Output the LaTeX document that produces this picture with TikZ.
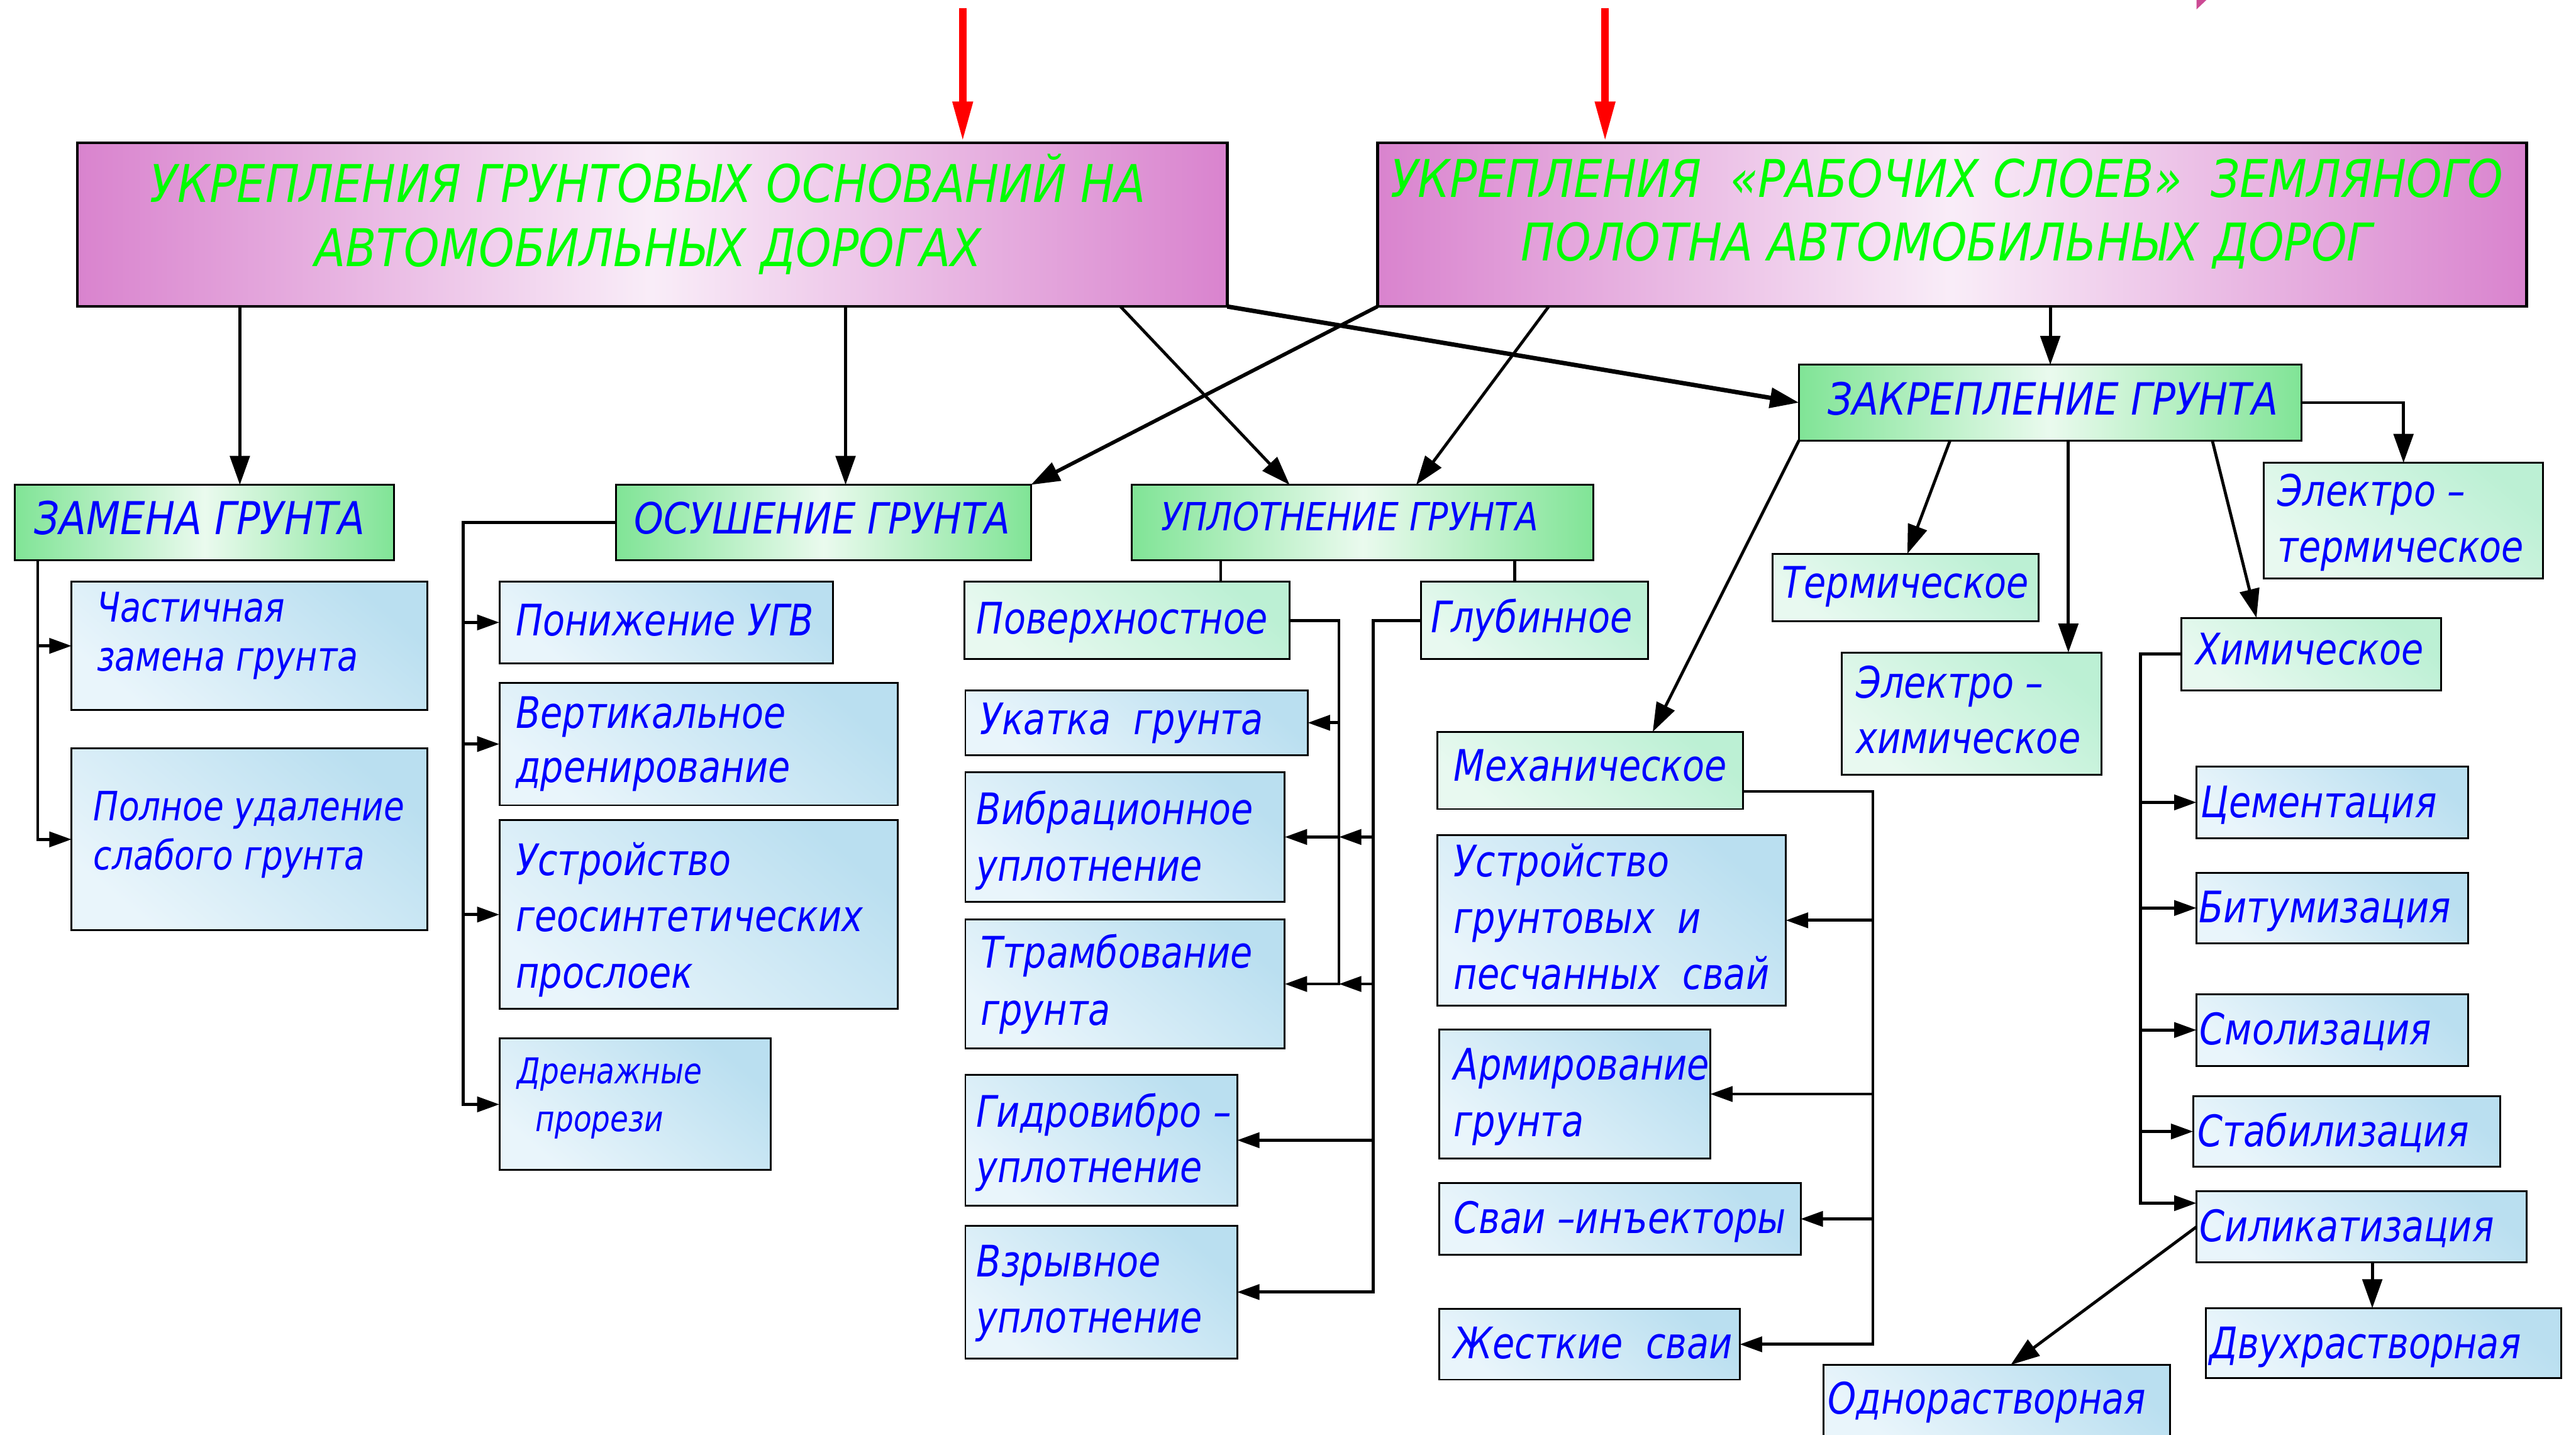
\documentclass[tikz,border=0pt]{standalone}
\usepackage{fontspec}
\usetikzlibrary{arrows.meta}
\newfontfamily\gf{DejaVu Sans}[FakeStretch=0.83]
\newfontfamily\gc{DejaVu Sans}[FakeStretch=0.87]
\newcommand\fs[2]{\gf\itshape\fontsize{#1pt}{#2pt}\selectfont}
\newcommand\fc[2]{\gc\itshape\fontsize{#1pt}{#2pt}\selectfont}
\newcommand\vstr{\rule[-0.25em]{0pt}{1.1em}}
\definecolor{tblue}{RGB}{0,0,255}
\definecolor{hgreen}{RGB}{0,255,0}
\definecolor{redc}{RGB}{255,0,0}
\definecolor{pinkc}{RGB}{204,74,148}
\definecolor{hdrE}{RGB}{217,131,206}
\definecolor{hdrM}{RGB}{249,237,248}
\definecolor{grnE}{RGB}{128,228,150}
\definecolor{grnM}{RGB}{234,250,238}
\definecolor{mintD}{RGB}{188,240,212}
\definecolor{mintL}{RGB}{232,249,240}
\definecolor{blueD}{RGB}{186,223,240}
\definecolor{blueL}{RGB}{233,245,251}
\begin{document}
\begin{tikzpicture}[x=0.25mm,y=-0.25mm,
  box/.style={rectangle, draw=black, line width=0.8pt, inner sep=0pt, outer sep=0pt},
  wh/.style 2 args={minimum width=#1*0.25mm, minimum height=#2*0.25mm},
  hdrbox/.style={box, line width=1.2pt, left color=hdrE, right color=hdrE, middle color=hdrM},
  grnbox/.style={box, left color=grnE, right color=grnE, middle color=grnM},
  mintbox/.style={box, top color=mintD, bottom color=mintL, shading angle=-40},
  bluebox/.style={box, top color=blueD, bottom color=blueL, shading angle=-40},
  txt/.style={inner sep=0pt, outer sep=0pt, anchor=west, align=left, text=tblue, font=\fs{18.8}{24.2}},
  hdrtxt/.style={inner sep=0pt, outer sep=0pt, align=center, text=hgreen, font=\fc{22.5}{27.7}},
  con/.style={draw=black, line width=1.3pt},
  arr/.style={-{Triangle[length=3.4mm,width=2.3mm]}},
  arrB/.style={-{Triangle[length=4.4mm,width=3mm]}},
  redarr/.style={draw=redc, line width=1.2mm, -{Triangle[length=6.3mm,width=2.8mm]}}
]
\fill[white] (0,0) rectangle (1568,873);
\clip (0,0) rectangle (1568,873);

% pink fragment at top
\fill[pinkc] (1337,0) -- (1343,0) -- (1337,5.7) -- cycle;

% ---- boxes ----
\node[hdrbox, wh={700}{99.5}] (H1) at (397,136.75) {};
\node[hdrbox, wh={699.5}{99.5}] (H2) at (1188.25,136.75) {};

\node[grnbox, wh={231}{46}] (zam) at (124.5,318) {};
\node[grnbox, wh={252.5}{46}] (osu) at (501.25,318) {};
\node[grnbox, wh={281}{46}] (upl) at (829.5,318) {};
\node[grnbox, wh={306}{46}] (zak) at (1248,245) {};

\node[bluebox, wh={216.4}{78}] (chast) at (151.8,393) {};
\node[bluebox, wh={216.4}{110.5}] (poln) at (151.8,510.75) {};

\node[bluebox, wh={203}{49.5}] (ugv) at (405.5,378.75) {};
\node[bluebox, wh={242.6}{74.5}] (vert) at (425.3,452.75) {};
\node[bluebox, wh={242.6}{115}] (geo) at (425.3,556.5) {};
\node[bluebox, wh={165}{80}] (dren) at (386.5,672) {};

\node[mintbox, wh={198}{47}] (pov) at (686,377.5) {};
\node[mintbox, wh={138}{47}] (glub) at (934,377.5) {};
\node[bluebox, wh={208.4}{39.6}] (ukat) at (691.8,439.8) {};
\node[bluebox, wh={194.4}{78.6}] (vibr) at (684.8,509.3) {};
\node[bluebox, wh={194.4}{78.5}] (tramb) at (684.8,598.75) {};
\node[bluebox, wh={165.4}{79.6}] (gidro) at (670.3,693.8) {};
\node[bluebox, wh={165.4}{80.9}] (vzr) at (670.3,786.2) {};

\node[mintbox, wh={186}{47}] (mech) at (968,468.8) {};
\node[bluebox, wh={212}{104}] (svai1) at (981,560) {};
\node[bluebox, wh={165}{78.6}] (arm) at (958.5,665.7) {};
\node[bluebox, wh={220}{43.4}] (inj) at (986,741.7) {};
\node[bluebox, wh={183}{43}] (zhest) at (967.5,818) {};

\node[mintbox, wh={162}{41}] (term) at (1160,357.5) {};
\node[mintbox, wh={158}{74.5}] (elch) at (1200,434.25) {};
\node[mintbox, wh={170}{70.4}] (elterm) at (1463,316.8) {};
\node[mintbox, wh={158.4}{44}] (him) at (1406.8,398) {};

\node[bluebox, wh={165.5}{43.5}] (cem) at (1419.75,488.25) {};
\node[bluebox, wh={165.5}{43}] (bit) at (1419.75,552.5) {};
\node[bluebox, wh={165.5}{43.5}] (smol) at (1419.75,626.75) {};
\node[bluebox, wh={187}{43}] (stab) at (1428.5,688.5) {};
\node[bluebox, wh={201}{43}] (sil) at (1437.5,746.5) {};
\node[bluebox, wh={216.4}{42.6}] (dvuh) at (1450.8,817.3) {};
\node[bluebox, wh={211}{45.5}] (odn) at (1215.5,853.25) {};

% ---- helper coordinates ----
\coordinate (r1) at (586,5);
\coordinate (r2) at (977,5);
\coordinate (k146) at (146,0);
\coordinate (k514) at (514.7,0);
\coordinate (k682) at (682,0);
\coordinate (k785) at (785,0);
\coordinate (k943) at (942.7,0);
\coordinate (k862) at (862,0);
\coordinate (kz) at (23,0);
\coordinate (ko) at (282,0);
\coordinate (k743) at (743,0);
\coordinate (k922) at (922,0);
\coordinate (kp) at (815,0);
\coordinate (kg) at (836,0);
\coordinate (k1006) at (1006,0);
\coordinate (k1187) at (1187,0);
\coordinate (k1161) at (1161,0);
\coordinate (k1259) at (1259,0);
\coordinate (k1347) at (1346.6,0);
\coordinate (k1373) at (1373.5,0);
\coordinate (km) at (1140,0);
\coordinate (kh) at (1303,0);
\coordinate (k1444) at (1444,0);
\coordinate (mo) at ([yshift=-3.2mm]mech.east);
\coordinate (si) at ([yshift=3.6mm]sil.west);
\coordinate (oi) at ([xshift=2.1mm]odn.north);

% ---- red arrows ----
\draw[redarr] (r1) -- (H1.north -| r1);
\draw[redarr] (r2) -- (H2.north -| r2);

% ---- connectors ----
\draw[con,arrB] (H1.south -| k146) -- (zam.north -| k146);
\draw[con,arrB] (H1.south -| k514) -- (osu.north -| k514);
\draw[con,arrB] (H1.south -| k682) -- (upl.north -| k785);
\draw[con,arrB,line width=1.9pt] (H1.south east) -- (zak.west);
\draw[con,arrB,line width=1.6pt] (H2.south west) -- (osu.north east);
\draw[con,arrB] (H2.south -| k943) -- (upl.north -| k862);
\draw[con,arrB] (H2.south -| zak.north) -- (zak.north);

\draw[con,arr] (zam.south -| kz) |- (poln.west);
\draw[con,arr] (kz |- chast.west) -- (chast.west);

\draw[con,arr] (osu.west) -| (ko |- dren.west) -- (dren.west);
\draw[con,arr] (ko |- ugv.west) -- (ugv.west);
\draw[con,arr] (ko |- vert.west) -- (vert.west);
\draw[con,arr] (ko |- geo.west) -- (geo.west);

\draw[con] (upl.south -| k743) -- (pov.north -| k743);
\draw[con] (upl.south -| k922) -- (glub.north -| k922);
\draw[con,arr] (pov.east) -| (kp |- tramb.east) -- (tramb.east);
\draw[con,arr] (kp |- ukat.east) -- (ukat.east);
\draw[con,arr] (kp |- vibr.east) -- (vibr.east);
\draw[con,arr] (glub.west) -| (kg |- vzr.east) -- (vzr.east);
\draw[con,arr] (kg |- gidro.east) -- (gidro.east);
\draw[con,arr] (kg |- vibr.east) -- (kp |- vibr.east);
\draw[con,arr] (kg |- tramb.east) -- (kp |- tramb.east);

\draw[con,arrB] (zak.south west) -- (mech.north -| k1006);
\draw[con,arrB] (zak.south -| k1187) -- (term.north -| k1161);
\draw[con,arrB] (zak.south -| k1259) -- (elch.north -| k1259);
\draw[con,arrB] (zak.south -| k1347) -- (him.north -| k1373);
\draw[con,arrB] (zak.east) -| (elterm.north);

\draw[con,arr] (mo) -| (km |- zhest.east) -- (zhest.east);
\draw[con,arr] (km |- svai1.east) -- (svai1.east);
\draw[con,arr] (km |- arm.east) -- (arm.east);
\draw[con,arr] (km |- inj.east) -- (inj.east);

\draw[con,arr] (him.west) -| (kh |- si) -- (si);
\draw[con,arr] (kh |- cem.west) -- (cem.west);
\draw[con,arr] (kh |- bit.west) -- (bit.west);
\draw[con,arr] (kh |- smol.west) -- (smol.west);
\draw[con,arr] (kh |- stab.west) -- (stab.west);
\draw[con,arrB] (sil.west) -- (oi);
\draw[con,arrB] (sil.south -| k1444) -- (dvuh.north -| k1444);

% ---- texts ----
\node[hdrtxt] (h1t) at (394.5,132) {\vstr УКРЕПЛЕНИЯ ГРУНТОВЫХ ОСНОВАНИЙ НА\\\vstr АВТОМОБИЛЬНЫХ ДОРОГАХ};
\node[hdrtxt] (h2t) at (1185,129.8) {\vstr УКРЕПЛЕНИЯ\ \ «РАБОЧИХ СЛОЕВ»\ \ ЗЕМЛЯНОГО\\\vstr ПОЛОТНА АВТОМОБИЛЬНЫХ ДОРОГ};

\node[txt, font=\fc{19.6}{24}] (zamt) at (21,317) {\vstr ЗАМЕНА ГРУНТА};
\node[txt, font=\fc{18.6}{24}] (osut) at (386,317) {\vstr ОСУШЕНИЕ ГРУНТА};
\node[txt, font=\fc{16.8}{24}] (uplt) at (707,316) {\vstr УПЛОТНЕНИЕ ГРУНТА};
\node[txt, font=\fc{19.2}{24}] (zakt) at (1112.6,244.5) {\vstr ЗАКРЕПЛЕНИЕ ГРУНТА};

\node[txt, font=\fs{17.7}{21.3}] (chastt) at (59,386) {\vstr Частичная\\\vstr замена грунта};
\node[txt, font=\fs{17.5}{21.3}] (polnt) at (57,507) {\vstr Полное удаление\\\vstr слабого грунта};

\node[txt] (ugvt) at (314,379) {\vstr Понижение УГВ};
\node[txt, font=\fs{18.8}{23.5}] (vertt) at (314,451.5) {\vstr Вертикальное\\\vstr дренирование};
\node[txt, font=\fs{18.8}{24.4}] (geot) at (314,558.9) {\vstr Устройство\\\vstr геосинтетических\\\vstr прослоек};
\node[txt, font=\fs{15.4}{20.6}] (drent) at (315,667.5) {\vstr Дренажные\\\hspace*{2.75mm}\vstr прорези};

\node[txt] (povt) at (594.5,377.6) {\vstr Поверхностное};
\node[txt] (glubt) at (871,377) {\vstr Глубинное};
\node[txt] (ukatt) at (596.6,439) {\vstr Укатка\ \ грунта};
\node[txt, font=\fs{18.8}{24.4}] (vibrt) at (594.5,510.9) {\vstr Вибрационное\\\vstr уплотнение};
\node[txt, font=\fs{18.8}{24.9}] (trambt) at (597,598.5) {\vstr Ттрамбование\\\vstr грунта};
\node[txt, font=\fs{18.8}{24}] (gidrot) at (594.5,694.6) {\vstr Гидровибро –\\\vstr уплотнение};
\node[txt, font=\fs{18.8}{24.2}] (vzrt) at (594.5,786) {\vstr Взрывное\\\vstr уплотнение};

\node[txt] (mecht) at (885,467.5) {\vstr Механическое};
\node[txt, font=\fs{18.8}{24.4}] (svai1t) at (885,559.9) {\vstr Устройство\\\vstr грунтовых\ \ и\\\vstr песчанных\ \ свай};
\node[txt, font=\fs{18.8}{24.5}] (armt) at (885,666.2) {\vstr Армирование\\\vstr грунта};
\node[txt] (injt) at (885,742.4) {\vstr Сваи –инъекторы};
\node[txt] (zhestt) at (885,818.7) {\vstr Жесткие\ \ сваи};

\node[txt] (termt) at (1084.7,356) {\vstr Термическое};
\node[txt, font=\fs{18.8}{24}] (elcht) at (1129.7,433.5) {\vstr Электро –\\\vstr химическое};
\node[txt, font=\fs{18.8}{24.2}] (eltermt) at (1386.5,317) {\vstr Электро –\\\vstr термическое};
\node[txt] (himt) at (1336.4,396.4) {\vstr Химическое};

\node[txt] (cemt) at (1339.7,489.4) {\vstr Цементация};
\node[txt] (bitt) at (1338.4,553.4) {\vstr Битумизация};
\node[txt] (smolt) at (1339,627.7) {\vstr Смолизация};
\node[txt] (stabt) at (1337.6,689.8) {\vstr Стабилизация};
\node[txt] (silt) at (1339,747.6) {\vstr Силикатизация};
\node[txt] (dvuht) at (1345,818.6) {\vstr Двухрастворная};
\node[txt] (odnt) at (1112.6,852.4) {\vstr Однорастворная};
\end{tikzpicture}
\end{document}
